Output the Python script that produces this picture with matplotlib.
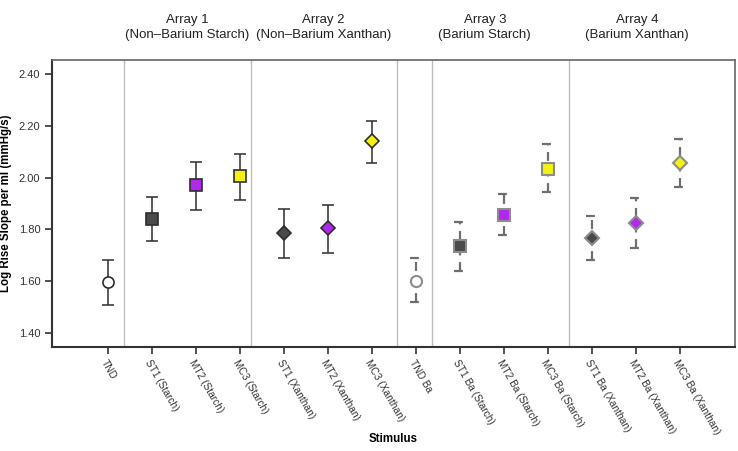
import matplotlib
matplotlib.use('Agg')
import matplotlib.pyplot as plt

plt.rcParams['font.family'] = ['Liberation Sans', 'DejaVu Sans']

# ---------- data ---------- #
labels = ['TND', 'ST1 (Starch)', 'MT2 (Starch)', 'MC3 (Starch)',
          'ST1 (Xanthan)', 'MT2 (Xanthan)', 'MC3 (Xanthan)',
          'TND Ba', 'ST1 Ba (Starch)', 'MT2 Ba (Starch)', 'MC3 Ba (Starch)',
          'ST1 Ba (Xanthan)', 'MT2 Ba (Xanthan)', 'MC3 Ba (Xanthan)']
means = [1.595, 1.840, 1.970, 2.005, 1.785, 1.805, 2.140,
         1.600, 1.735, 1.855, 2.035, 1.765, 1.825, 2.055]
lower = [1.510, 1.755, 1.875, 1.915, 1.690, 1.710, 2.055,
         1.520, 1.640, 1.780, 1.945, 1.680, 1.730, 1.965]
upper = [1.680, 1.925, 2.060, 2.090, 1.880, 1.895, 2.220,
         1.690, 1.830, 1.935, 2.130, 1.850, 1.920, 2.150]
markers = ['o', 's', 's', 's', 'D', 'D', 'D',
           'o', 's', 's', 's', 'D', 'D', 'D']
faces = ['white', '#4a4a4a', '#b526f2', '#f2f20a', '#4a4a4a', '#b526f2', '#f2f20a',
         'white', '#4a4a4a', '#b526f2', '#f2f20a', '#4a4a4a', '#b526f2', '#f2f20a']
barium = [False] * 7 + [True] * 7

separators = [0.37, 3.26, 6.57, 7.37, 10.49]
array_titles = ['Array 1\n(Non\u2013Barium Starch)', 'Array 2\n(Non\u2013Barium Xanthan)',
                'Array 3\n(Barium Starch)', 'Array 4\n(Barium Xanthan)']
title_pos = [1.8, 4.9, 8.57, 12.03]
yticks = [1.40, 1.60, 1.80, 2.00, 2.20, 2.40]

# ---------- figure ---------- #
fig = plt.figure(figsize=(7.38, 4.51), dpi=100)
ax = fig.add_axes([0.0705, 0.2306, 0.9255, 0.6364])

for s in separators:
    ax.axvline(s, color='#bdbdbd', lw=1, zorder=1)

cap = 0.13
for i in range(len(labels)):
    if barium[i]:
        col, ls, lw, ec = '#6e6e6e', (0, (4, 3)), 1.6, '#8c8c8c'
    else:
        col, ls, lw, ec = '#2e2e2e', 'solid', 1.1, '#2e2e2e'
    ax.vlines(i, lower[i], upper[i], colors=col, linestyles=ls, lw=lw, zorder=2)
    ax.hlines([lower[i], upper[i]], i - cap, i + cap, colors=col, linestyles=ls, lw=lw, zorder=2)
    ms = 7.2 if markers[i] == 'D' else 8
    ax.plot(i, means[i], marker=markers[i], ms=ms, mfc=faces[i], mec=ec,
            mew=1.2 if not barium[i] else 1.5, zorder=3, ls='none')

ax.set_xlim(-1.27, 14.26)
ax.set_ylim(1.346, 2.454)
ax.set_yticks(yticks)
ax.set_yticklabels(['%.2f' % v for v in yticks], fontsize=8, color='#333333')
ax.set_xticks(range(len(labels)))
ax.set_xticklabels(labels, rotation=-60, ha='left', rotation_mode='anchor',
                   fontsize=7.3, color='#333333')
ax.tick_params(axis='both', direction='out', length=5, width=1.2, color='#333333')
ax.tick_params(axis='x', pad=3)

for side in ['left', 'bottom']:
    ax.spines[side].set_color('#333333')
    ax.spines[side].set_linewidth(1.5)
for side in ['top', 'right']:
    ax.spines[side].set_color('#666666')
    ax.spines[side].set_linewidth(1.2)

ax.set_ylabel('Log Rise Slope per ml (mmHg/s)', fontsize=8.3, fontweight='bold')
ax.yaxis.set_label_coords(-0.058, 0.5)
ax.set_xlabel('Stimulus', fontsize=8.3, fontweight='bold')
ax.xaxis.set_label_coords(0.5, -0.30)

for t, x in zip(array_titles, title_pos):
    ax.text(x, 1.065, t, transform=ax.get_xaxis_transform(), ha='center', va='bottom',
            fontsize=9.5, color='#222222', linespacing=1.35)

fig.savefig('out.png', dpi=100)
